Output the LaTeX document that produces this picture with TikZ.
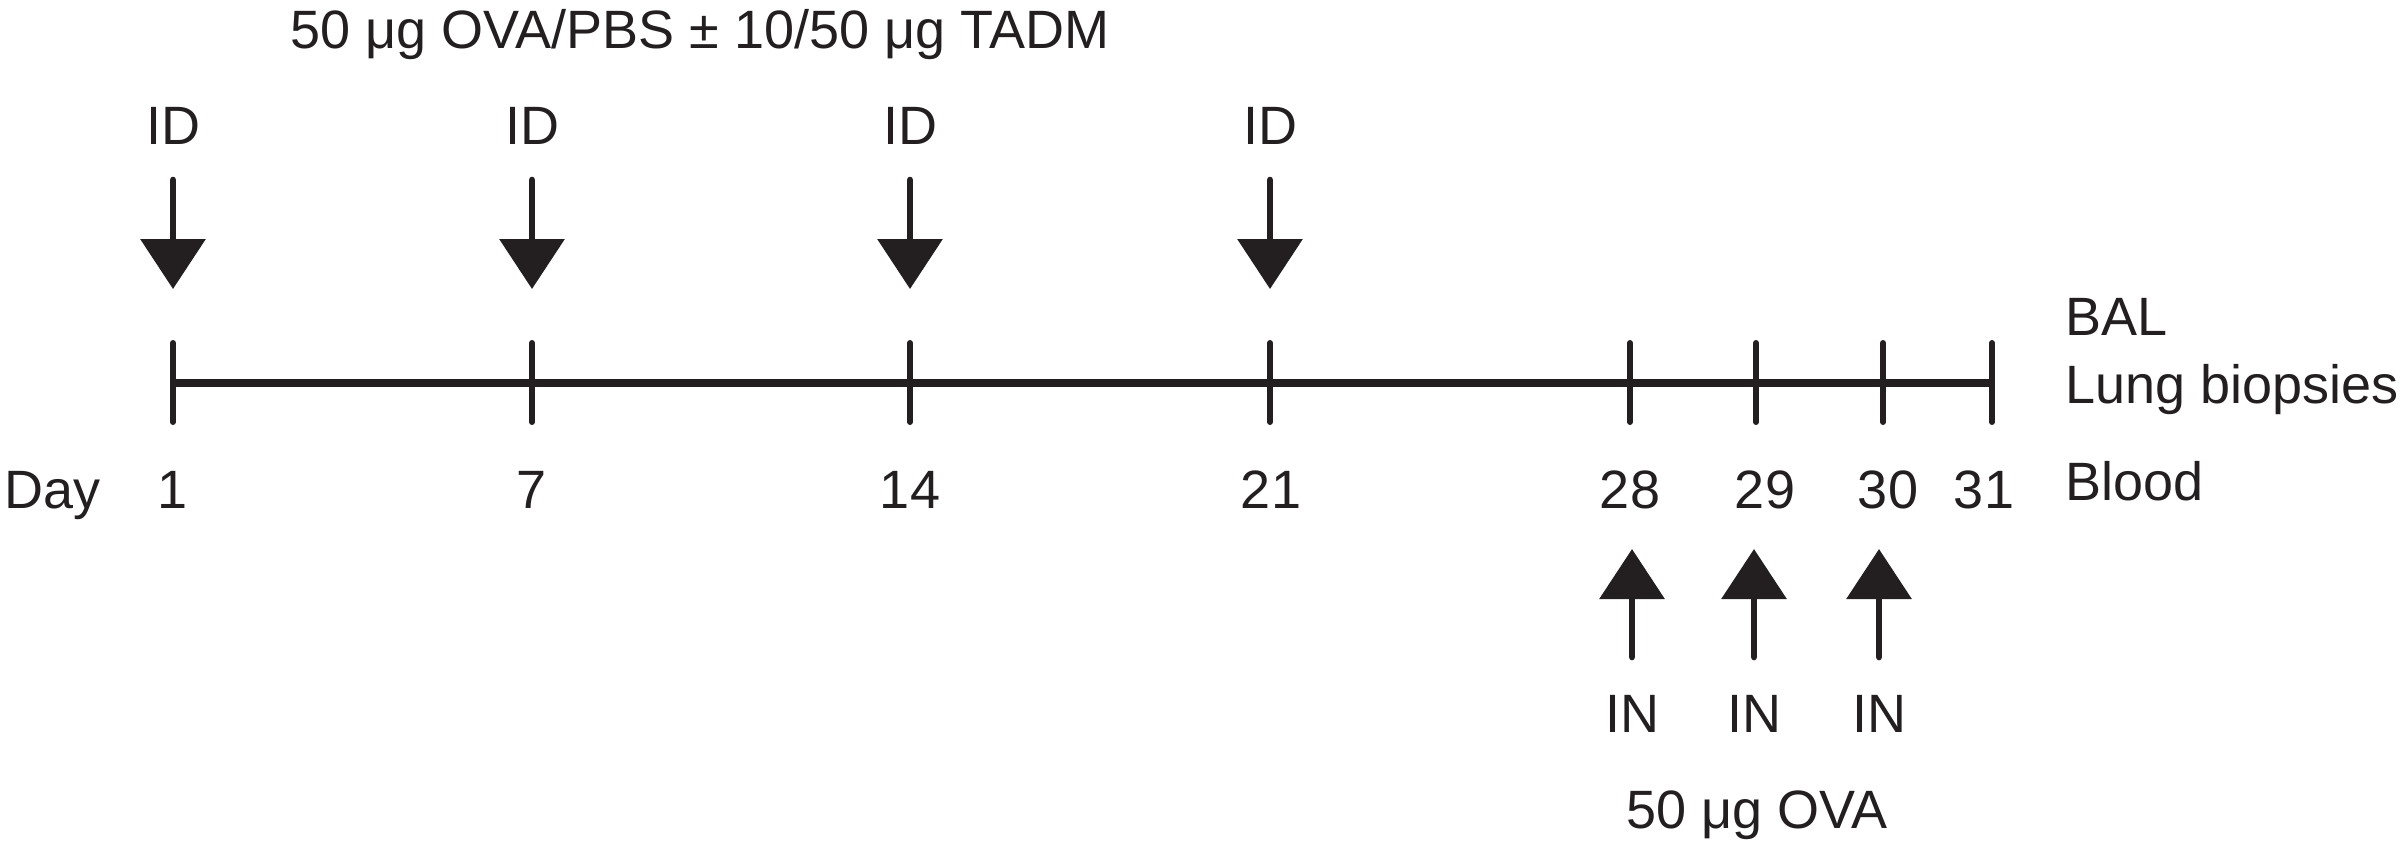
\documentclass[tikz,border=0pt]{standalone}
\usepackage{fontspec}
\setmainfont{Liberation Sans}
\usetikzlibrary{arrows.meta}
\definecolor{ink}{HTML}{231F20}
\tikzset{
  every node/.style={text=ink},
  lbl/.style={inner sep=0pt, anchor=base, font=\fontsize{16.2pt}{18pt}\selectfont},
  lbll/.style={lbl, anchor=base west},
  axis/.style={draw=ink, line width=2.4pt},
  tick/.style={draw=ink, line width=1.8pt, line cap=round},
  inj/.style={draw=ink, fill=ink, line width=2pt, line cap=round, -{Triangle[width=19.2pt,length=15pt]}},
}
\begin{document}
\begin{tikzpicture}[x=0.3pt,y=-0.3pt]
\useasboundingbox (0,0) rectangle (2405,844);
% title
\node[lbl] (title) at (700,48) {50 μg OVA/PBS ± 10/50 μg TADM};
% timeline
\coordinate (t1) at (173,383);
\coordinate (t31) at (1992,383);
\draw[axis] (t1) -- (t31);
\foreach \x/\n in {173/1,532/7,910/14,1270/21,1630/28,1756/29,1883/30,1992/31}{
  \draw[tick] (\x,343) -- (\x,422);
}
% day labels
\node[lbll] (day) at (4,508) {Day};
\node[lbl] (d1) at (173,508) {1};
\node[lbl] (d7) at (532,508) {7};
\node[lbl] (d14) at (910,508) {14};
\node[lbl] (d21) at (1271,508) {21};
\node[lbl] (d28) at (1630,508) {28};
\node[lbl] (d29) at (1765,508) {29};
\node[lbl] (d30) at (1888,508) {30};
\node[lbl] (d31) at (1984,508) {31};
% right labels
\node[lbll] (bal) at (2065,335) {BAL};
\node[lbll] (lung) at (2065,403) {Lung biopsies};
\node[lbll] (blood) at (2065,500) {Blood};
% ID arrows
\foreach \x/\n in {173/a,532/b,910/c,1270/d}{
  \node[lbl] (id\n) at (\x,144) {ID};
  \coordinate (ids\n) at (\x,180);
  \coordinate (idt\n) at (\x,289);
  \draw[inj] (ids\n) -- (idt\n);
}
% IN arrows
\foreach \x/\n in {1632/a,1754/b,1879/c}{
  \node[lbl] (in\n) at (\x,732) {IN};
  \coordinate (ins\n) at (\x,657);
  \coordinate (int\n) at (\x,549);
  \draw[inj] (ins\n) -- (int\n);
}
\node[lbl] (ova) at (1757,828) {50 μg OVA};
\end{tikzpicture}
\end{document}
